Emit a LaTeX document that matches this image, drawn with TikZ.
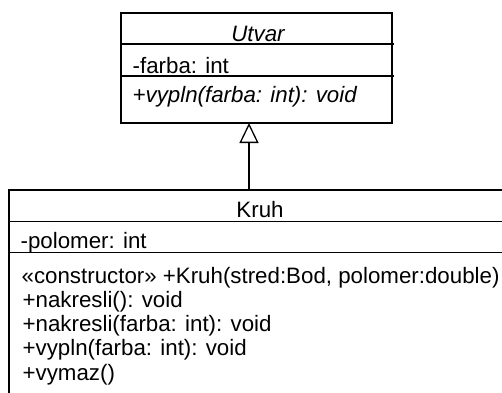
\documentclass[tikz,border=0pt]{standalone}
\usepackage{fontspec}
\setmainfont{Liberation Sans}
\usetikzlibrary{arrows.meta}
\begin{document}
\begin{tikzpicture}[x=1pt,y=-1pt,
  line width=1.3pt,
  classbox/.style={draw, rectangle, anchor=north west, inner sep=0pt, outer sep=0pt},
  member/.style={anchor=base west, inner sep=0pt, font=\fontsize{22.3}{24.3}\selectfont},
  title/.style={anchor=base, inner sep=0pt, font=\fontsize{22.3}{24.3}\selectfont},
  generalization/.style={-{Triangle[open, length=20pt, width=19pt, line width=1.3pt]}}]
  \useasboundingbox (0,0) rectangle (502,392);
  \clip (0,0) rectangle (502,392);

  % abstract class Utvar
  \node[classbox, minimum width=271pt, minimum height=110pt] (utvar) at (121,13) {};
  \draw (121,44) -- (394,44);
  \draw (121,76) -- (394,76);
  \node[title, font=\fontsize{22.3}{24.3}\selectfont\itshape] (utvarname) at (258,41) {Utvar};
  \node[member] (utvarattr) at (132,73) {-farba: int};
  \node[member, font=\fontsize{22.3}{24.3}\selectfont\itshape] (utvarop) at (132,102) {+vypln(farba: int): void};

  % class Kruh
  \node[classbox, minimum width=505pt, minimum height=240pt] (kruh) at (9,190) {};
  \draw (9,221.5) -- (520,221.5);
  \draw (9,252.5) -- (520,252.5);
  \node[title] (kruhname) at (260,217) {Kruh};
  \node[member] (kruhattr) at (20,248) {-polomer: int};
  \node[member] (op1) at (21,283) {«constructor» +Kruh(stred:Bod, polomer:double)};
  \node[member] (op2) at (22,307.3) {+nakresli(): void};
  \node[member] (op3) at (22,331.6) {+nakresli(farba: int): void};
  \node[member] (op4) at (22,355.9) {+vypln(farba: int): void};
  \node[member] (op5) at (22,380.2) {+vymaz()};

  % inheritance
  \coordinate (genx) at (249,0);
  \draw[generalization] (kruh.north -| genx) -- (utvar.south -| genx);
\end{tikzpicture}
\end{document}
